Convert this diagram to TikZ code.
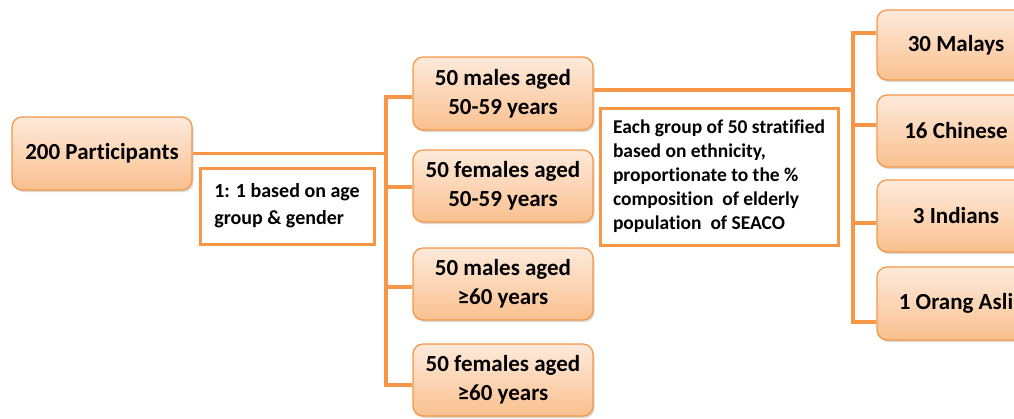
\documentclass[tikz,border=0pt]{standalone}
\usepackage{fontspec}
\setmainfont{Carlito}[Ligatures={NoCommon}]
\usetikzlibrary{shadows}
\definecolor{orline}{HTML}{F79646}
\definecolor{ortop}{HTML}{FDEADB}
\definecolor{orbot}{HTML}{FAC08F}
\tikzset{
  obox/.style={draw=orline, line width=1.2pt, rounded corners=10pt,
    top color=ortop, bottom color=orbot, align=center,
    font=\bfseries\fontsize{23}{29}\selectfont, inner sep=0pt,
    drop shadow={shadow xshift=1.5pt, shadow yshift=-2pt, opacity=0.25, fill=black!60}},
  notebox/.style={draw=orline, line width=3pt, fill=white, align=left,
    inner sep=0pt},
  conn/.style={draw=orline, line width=3.2pt}
}
\begin{document}
\begin{tikzpicture}[x=1pt,y=-1pt]
\useasboundingbox (0,0) rectangle (1014,418);
% level 1
\node[obox, minimum width=180pt, minimum height=73pt] (P) at (102,153.5) {200 Participants};
% level 2
\node[obox, minimum width=180pt, minimum height=73pt] (M1) at (503,93.5) {50 males aged\\50-59 years};
\node[obox, minimum width=180pt, minimum height=72pt] (F1) at (503,186) {50 females aged\\50-59 years};
\node[obox, minimum width=180pt, minimum height=72pt] (M2) at (503,284) {50 males aged\\≥60 years};
\node[obox, minimum width=180pt, minimum height=72pt] (F2) at (503,380) {50 females aged\\≥60 years};
% level 3
\node[obox, minimum width=158pt, minimum height=70pt] (R1) at (956,45) {30 Malays};
\node[obox, minimum width=158pt, minimum height=72pt] (R2) at (956,131) {16 Chinese};
\node[obox, minimum width=158pt, minimum height=72pt] (R3) at (956,216) {3 Indians};
\node[obox, minimum width=158pt, minimum height=73pt] (R4) at (956,303.5) {1 Orang Asli};
% notes
\node[notebox, minimum width=174pt, minimum height=76pt,
  font=\bfseries\fontsize{20}{27}\selectfont] (N1) at (287,206)
  {1: 1 based on age\\group \& gender};
\node[notebox, minimum width=238pt, minimum height=137pt,
  font=\bfseries\fontsize{19.5}{24}\selectfont] (N2) at (719,176.5)
  {Each group of 50 stratified\\based on ethnicity,\\proportionate to the \%\\composition\ \ of elderly\\population\ \ of SEACO};
% left trunk
\coordinate (tl0) at (386,153.5);
\coordinate (tl1) at (386,97);
\coordinate (tl2) at (386,187);
\coordinate (tl3) at (386,287);
\coordinate (tl4) at (386,385);
\draw[conn] (P.east) -- (tl0);
\draw[conn, line cap=rect] (tl1) -- (tl4);
\draw[conn] (tl1) -- (tl1 -| M1.west);
\draw[conn] (tl2) -- (tl2 -| F1.west);
\draw[conn] (tl3) -- (tl3 -| M2.west);
\draw[conn] (tl4) -- (tl4 -| F2.west);
% right trunk
\coordinate (tr0) at (853,90);
\coordinate (tr1) at (853,33);
\coordinate (tr2) at (853,125);
\coordinate (tr3) at (853,223);
\coordinate (tr4) at (853,322);
\draw[conn] (M1.east |- tr0) -- (tr0);
\draw[conn, line cap=rect] (tr1) -- (tr4);
\draw[conn] (tr1) -- (tr1 -| R1.west);
\draw[conn] (tr2) -- (tr2 -| R2.west);
\draw[conn] (tr3) -- (tr3 -| R3.west);
\draw[conn] (tr4) -- (tr4 -| R4.west);
\end{tikzpicture}
\end{document}
